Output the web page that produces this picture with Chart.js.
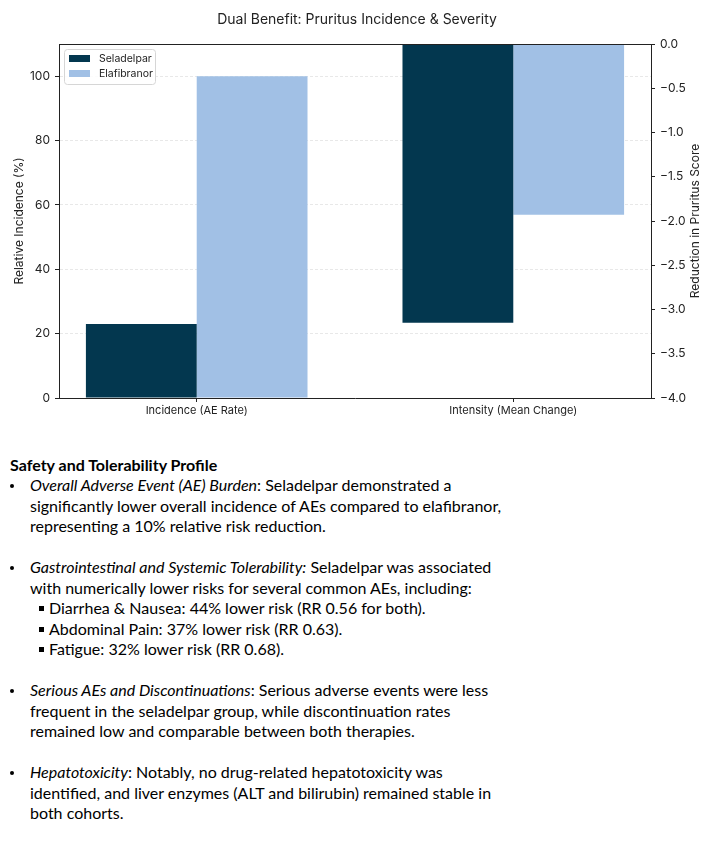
<!DOCTYPE html>
<html>
<head>
<meta charset="utf-8">
<script src="https://cdn.jsdelivr.net/npm/chart.js"></script>
<style>
html, body { margin: 0; padding: 0; background: #fff; width: 714px; height: 842px; overflow: hidden; }
#wrap { position: absolute; left: 0; top: 0; width: 714px; height: 440px; }
#notes { position: absolute; left: 0; top: 455px; font-family: Lato, "Open Sans", sans-serif; font-size: 16px; color: #000; white-space: nowrap; }
.ln { position: relative; height: 20.47px; line-height: 20.47px; }
.h { font-weight: bold; padding-left: 10px; }
.b { padding-left: 30px; }
.b .m { position: absolute; left: 10px; top: 8.5px; width: 4px; height: 4px; border-radius: 50%; background: #000; }
.s { padding-left: 49px; }
.s .q { position: absolute; left: 39px; top: 8px; width: 5px; height: 5px; background: #000; }
</style>
</head>
<body>
<div id="wrap"><canvas id="c" width="714" height="440"></canvas></div>
<div id="notes">
  <div class="ln h">Safety and Tolerability Profile</div>
  <div class="ln b"><span class="m"></span><i>Overall Adverse Event (AE) Burden</i>: Seladelpar demonstrated a</div>
  <div class="ln b">significantly lower overall incidence of AEs compared to elafibranor,</div>
  <div class="ln b">representing a 10% relative risk reduction.</div>
  <div class="ln"></div>
  <div class="ln b"><span class="m"></span><i>Gastrointestinal and Systemic Tolerability:</i> Seladelpar was associated</div>
  <div class="ln b">with numerically lower risks for several common AEs, including:</div>
  <div class="ln s"><span class="q"></span>Diarrhea &amp; Nausea: 44% lower risk (RR 0.56 for both).</div>
  <div class="ln s"><span class="q"></span>Abdominal Pain: 37% lower risk (RR 0.63).</div>
  <div class="ln s"><span class="q"></span>Fatigue: 32% lower risk (RR 0.68).</div>
  <div class="ln"></div>
  <div class="ln b"><span class="m"></span><i>Serious AEs and Discontinuations</i>: Serious adverse events were less</div>
  <div class="ln b">frequent in the seladelpar group, while discontinuation rates</div>
  <div class="ln b">remained low and comparable between both therapies.</div>
  <div class="ln"></div>
  <div class="ln b"><span class="m"></span><i>Hepatotoxicity</i>: Notably, no drug-related hepatotoxicity was</div>
  <div class="ln b">identified, and liver enzymes (ALT and bilirubin) remained stable in</div>
  <div class="ln b">both cohorts.</div>
</div>
<script>
// ---- Data ----
const chartTitle = 'Dual Benefit: Pruritus Incidence & Severity';
const categories = ['Incidence (AE Rate)', 'Intensity (Mean Change)'];
const seriesNames = ['Seladelpar', 'Elafibranor'];
const incidenceValues = [23, 100];        // Relative Incidence (%) : Seladelpar, Elafibranor
const intensityValues = [-3.15, -1.93];   // Reduction in Pruritus Score : Seladelpar, Elafibranor
const leftTicks = [0, 20, 40, 60, 80, 100];
const rightTicks = [0, -0.5, -1, -1.5, -2, -2.5, -3, -3.5, -4];
const leftTitle = 'Relative Incidence (%)';
const rightTitle = 'Reduction in Pruritus Score';

// ---- Style ----
const seriesColors = ['#03374f', '#a1c0e5'];
const FONT = 'Inter, Roboto, sans-serif';
const INK = '#222';

const datasets = [];
seriesNames.forEach((name, s) => {
  datasets.push({
    label: name, yAxisID: 'y',
    data: categories.map((c, i) => ({ x: i, y: i === 0 ? incidenceValues[s] : null })),
    backgroundColor: seriesColors[s]
  });
});
seriesNames.forEach((name, s) => {
  datasets.push({
    label: name, yAxisID: 'y1',
    data: categories.map((c, i) => ({ x: i, y: i === 1 ? intensityValues[s] : null })),
    backgroundColor: seriesColors[s]
  });
});

const fmtMinus = v => (v === 0 ? '0.0' : v.toFixed(1).replace('-', '\u2212'));

const framePlugin = {
  id: 'frame',
  afterDatasetsDraw(chart) {
    const { ctx, chartArea: a } = chart;
    ctx.save();
    ctx.strokeStyle = INK;
    ctx.lineWidth = 1;
    ctx.beginPath();
    const t = Math.round(a.top) + 0.5;
    ctx.moveTo(a.left, t);
    ctx.lineTo(a.right, t);
    ctx.stroke();
    // right axis title, reading bottom-to-top
    ctx.save();
    ctx.translate(chart.width - 19, (a.top + a.bottom) / 2);
    ctx.rotate(-Math.PI / 2);
    ctx.font = '12px ' + FONT;
    ctx.fillStyle = INK;
    ctx.textAlign = 'center';
    ctx.textBaseline = 'middle';
    ctx.fillText(rightTitle, 0, 0);
    ctx.restore();
    // inner legend
    const x = a.left + 5, y = a.top + 5, w = 91, h = 35;
    ctx.fillStyle = 'rgba(255,255,255,0.85)';
    ctx.strokeStyle = '#d6d6d6';
    ctx.beginPath();
    ctx.roundRect(x + 0.5, y + 0.5, w, h, 3);
    ctx.fill();
    ctx.stroke();
    ctx.font = '10.5px ' + FONT;
    ctx.textBaseline = 'middle';
    ctx.textAlign = 'left';
    seriesNames.forEach((name, i) => {
      ctx.fillStyle = seriesColors[i];
      ctx.fillRect(x + 5, y + 6 + i * 15, 21, 7);
      ctx.fillStyle = INK;
      ctx.fillText(name, x + 35, y + 9.5 + i * 15);
    });
    ctx.restore();
  }
};

new Chart(document.getElementById('c'), {
  type: 'bar',
  data: { datasets },
  plugins: [framePlugin],
  options: {
    responsive: false,
    animation: false,
    layout: { padding: 0 },
    datasets: { bar: { skipNull: true, categoryPercentage: 0.7, barPercentage: 1.0, grouped: true } },
    plugins: {
      legend: { display: false },
      tooltip: { enabled: false },
      title: {
        display: true, text: chartTitle, color: INK,
        font: { family: FONT, size: 14, weight: 'normal' },
        padding: { top: 11.6, bottom: 15.6 }
      }
    },
    scales: {
      x: {
        type: 'linear', offset: false, min: -0.435, max: 1.435,
        afterBuildTicks: s => { s.ticks = categories.map((c, i) => ({ value: i })); },
        afterFit: s => { s.height = 42; },
        grid: { display: true, drawOnChartArea: false, drawTicks: true, tickLength: 4, tickColor: INK, tickWidth: 1, offset: false },
        border: { display: true, color: INK, width: 1 },
        ticks: { callback: v => categories[v] ?? '', color: INK, font: { family: FONT, size: 11 }, padding: 2, maxRotation: 0, autoSkip: false }
      },
      y: {
        position: 'left', min: 0, max: 110,
        afterBuildTicks: s => { s.ticks = leftTicks.map(v => ({ value: v })); },
        afterFit: s => { s.width = 59; },
        grid: { color: '#e2e2e2', lineWidth: 0.8, tickColor: INK, tickLength: 4, tickWidth: 1 },
        border: { display: true, color: INK, width: 1, dash: [3, 2] },
        ticks: { color: INK, font: { family: FONT, size: 12 }, padding: 5 },
        title: { display: true, text: leftTitle, color: INK, font: { family: FONT, size: 12 }, padding: { top: 12, bottom: 0 } }
      },
      y1: {
        position: 'right', min: -4, max: 0,
        afterBuildTicks: s => { s.ticks = rightTicks.map(v => ({ value: v })); },
        afterFit: s => { s.width = 63; },
        grid: { drawOnChartArea: false, tickColor: INK, tickLength: 4, tickWidth: 1 },
        border: { display: true, color: INK, width: 1 },
        ticks: { color: INK, font: { family: FONT, size: 12 }, padding: 5, callback: v => fmtMinus(v) },
        title: { display: false }
      }
    }
  }
});
</script>
</body>
</html>
